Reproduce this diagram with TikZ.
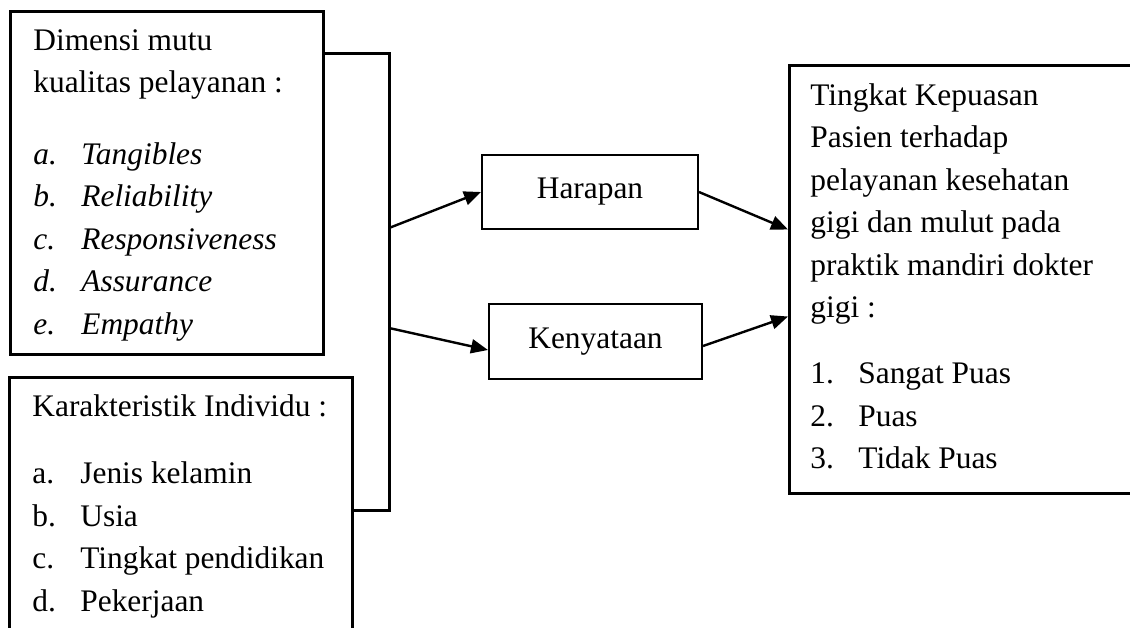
\documentclass[tikz,border=0pt]{standalone}
\usepackage{fontspec}
\setmainfont{Liberation Serif}
\usetikzlibrary{arrows.meta}
\newcommand{\listlabel}[1]{\makebox[24pt][l]{#1}}
\tikzset{
    outerbox/.style = {
        draw, rectangle, line width=1.5pt, inner sep=0, anchor=north west
    },
    innerbox/.style = {
        draw, rectangle, line width=1pt, inner sep=0,
        font=\fontsize{15.7}{21.25}\selectfont
    },
    textblock/.style = {
        inner sep=0, anchor=north west, align=left,
        font=\fontsize{15.7}{21.25}\selectfont
    },
    link/.style = {
        line width=1.2pt, -{Triangle[length=8.5pt,width=7pt]}
    }
}
\begin{document}
\begin{tikzpicture}[x=0.5pt, y=-0.5pt]
    \useasboundingbox (0,0) rectangle (1130,627);
    \node[outerbox, minimum width=156.5pt, minimum height=171.5pt] (dimensi) at (9,10) {};
    \node[textblock] (dimensi-text) at (33,29) {Dimensi mutu\\kualitas pelayanan :\\[14.5pt]
        \textit{\listlabel{a.}Tangibles}\\
        \textit{\listlabel{b.}Reliability}\\
        \textit{\listlabel{c.}Responsiveness}\\
        \textit{\listlabel{d.}Assurance}\\
        \textit{\listlabel{e.}Empathy}};
    \coordinate (karakteristik) at (9,377);
    \coordinate (kar-side) at (352,510);
    \draw[line width=1.5pt] (9,640) -- (karakteristik) -- (352,377) -- (352,640);
    \node[textblock] (karakteristik-text) at (32,394) {Karakteristik Individu :\\[12.5pt]
        \listlabel{a.}Jenis kelamin\\
        \listlabel{b.}Usia\\
        \listlabel{c.}Tingkat pendidikan\\
        \listlabel{d.}Pekerjaan};
    \coordinate (split-top) at (389,53);
    \coordinate (split-bot) at (389,510);
    \coordinate (split-a) at (389,228);
    \coordinate (split-b) at (389,328);
    \draw[line width=1.5pt] ([yshift=-21.5pt]dimensi.north east) -- (split-top) -- (split-bot) -- (kar-side);
    \node[innerbox, minimum width=108pt, minimum height=37pt] (harapan) at (590,192) {Harapan};
    \node[innerbox, minimum width=106.5pt, minimum height=37.5pt] (kenyataan) at (595.5,341.5) {Kenyataan};
    \node[outerbox, minimum width=171pt, minimum height=214pt] (kepuasan) at (788,64) {};
    \node[textblock] (kepuasan-text) at (810,83) {Tingkat Kepuasan\\Pasien terhadap\\pelayanan kesehatan\\
        gigi dan mulut pada\\praktik mandiri dokter\\gigi :\\[11.75pt]
        \listlabel{1.}Sangat Puas\\
        \listlabel{2.}Puas\\
        \listlabel{3.}Tidak Puas};
    \draw[link] (split-a) -- (harapan.west);
    \draw[link] (split-b) -- ([yshift=-4.25pt]kenyataan.west);
    \draw[link] (harapan.east) -- ([yshift=25pt]kepuasan.west);
    \draw[link] ([yshift=-2.25pt]kenyataan.east) -- ([yshift=-18.5pt]kepuasan.west);
\end{tikzpicture}
\end{document}
